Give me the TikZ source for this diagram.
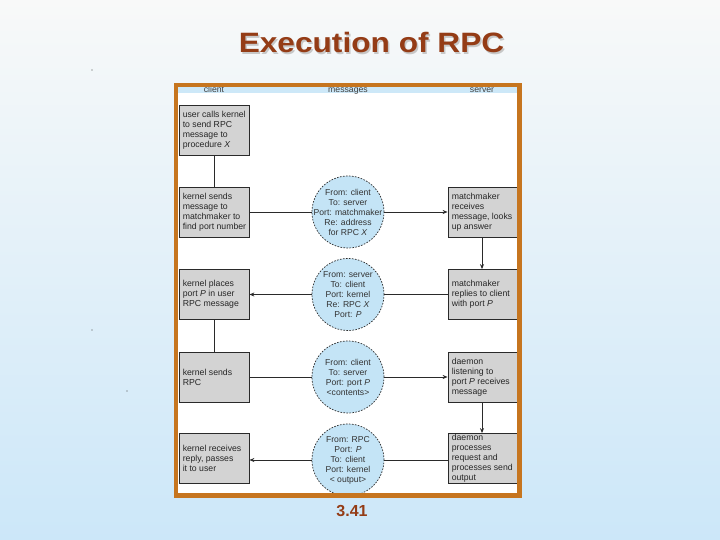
\documentclass[tikz,border=0pt]{standalone}
\usepackage{fontspec}
\setmainfont{Liberation Sans}
\usetikzlibrary{arrows.meta}
\definecolor{bgtop}{HTML}{F8F9F9}
\definecolor{bgbot}{HTML}{CCE7F9}
\definecolor{titlec}{HTML}{943C16}
\definecolor{framec}{HTML}{C6751F}
\definecolor{boxfill}{HTML}{D3D3D3}
\definecolor{circfill}{HTML}{C4E4F6}
\definecolor{stripc}{HTML}{CDE8F8}
\definecolor{linec}{HTML}{2A2A2A}
\begin{document}
\begin{tikzpicture}[x=1pt,y=-1pt,
 stepbox/.style={draw=linec, line width=0.8pt, fill=boxfill, minimum width=70pt, minimum height=50pt, inner sep=0pt},
 rightbox/.style={stepbox, minimum width=71pt},
 boxtext/.style={anchor=west, align=left, inner sep=0pt, font=\fontsize{8.7}{10}\selectfont, text=black!85},
 msg/.style={circle, draw=linec, dashed, dash pattern=on 1.6pt off 1.4pt, line width=0.7pt, fill=circfill, minimum size=72pt, inner sep=0pt},
 msgtext/.style={align=center, inner sep=0pt, font=\fontsize{8.6}{10}\selectfont, text=black!80},
 conn/.style={draw=linec, line width=0.8pt},
 arr/.style={conn, -{Stealth[length=5pt,width=4pt]}},
 hdr/.style={anchor=base, font=\fontsize{8.7}{10}\selectfont, text=black!75},
]
\useasboundingbox (0,0) rectangle (720,540);
\shade[top color=bgtop, bottom color=bgbot] (0,0) rectangle (720,540);
% specks
\fill[black!70] (92,70) circle (0.7);
\fill[black!70] (92,330) circle (0.7);
\fill[black!70] (127,391) circle (0.7);
% title
\node[anchor=base, font=\fontsize{28}{34}\selectfont\bfseries, text=black!22] (titleshadow) at (373,54.5) {\scalebox{1.13}[1]{Execution of RPC}};
\node[anchor=base, font=\fontsize{28}{34}\selectfont\bfseries, text=titlec] (title) at (371.5,53) {\scalebox{1.13}[1]{Execution of RPC}};
% frame interior
\fill[white] (176,85) rectangle (519.5,495.5);
% header strip
\fill[stripc] (178,87) rectangle (517.5,93.5);
\begin{scope}
\clip (178,87) rectangle (517.5,93.5);
\node[hdr] (hclient) at (214,92.3) {client};
\node[hdr] (hmsg) at (348,92.3) {messages};
\node[hdr] (hserver) at (482,92.3) {server};
\end{scope}
% client boxes
\node[stepbox] (l1) at (214,130.5) {};
\node[stepbox] (l2) at (214,212) {};
\node[stepbox] (l3) at (214,294.5) {};
\node[stepbox] (l4) at (214,377) {};
\node[stepbox] (l5) at (214,458.5) {};
\node[boxtext] (l1t) at ([xshift=4pt]l1.west) {user calls kernel\\to send RPC\\message to\\procedure \textit{X}};
\node[boxtext] (l2t) at ([xshift=4pt]l2.west) {kernel sends\\message to\\matchmaker to\\find port number};
\node[boxtext] (l3t) at ([xshift=4pt]l3.west) {kernel places\\port \textit{P} in user\\RPC message};
\node[boxtext] (l4t) at ([xshift=4pt]l4.west) {kernel sends\\RPC};
\node[boxtext] (l5t) at ([xshift=4pt]l5.west) {kernel receives\\reply, passes\\it to user};
% server boxes
\node[rightbox] (r2) at (483.5,212) {};
\node[rightbox] (r3) at (483.5,294.5) {};
\node[rightbox] (r4) at (483.5,377) {};
\node[rightbox] (r5) at (483.5,458.5) {};
\node[boxtext] (r2t) at ([xshift=4pt]r2.west) {matchmaker\\receives\\message, looks\\up answer};
\node[boxtext] (r3t) at ([xshift=4pt]r3.west) {matchmaker\\replies to client\\with port \textit{P}};
\node[boxtext] (r4t) at ([xshift=4pt]r4.west) {daemon\\listening to\\port \textit{P} receives\\message};
\node[boxtext] (r5t) at ([xshift=4pt]r5.west) {daemon\\processes\\request and\\processes send\\output};
% messages
\node[msg] (c1) at (348,212) {};
\node[msg] (c2) at (348,294.5) {};
\node[msg] (c3) at (348,377) {};
\node[msg] (c4) at (348,460) {};
\node[msgtext] (c1t) at (c1) {From: client\\To: server\\Port: matchmaker\\Re: address\\for RPC \textit{X}};
\node[msgtext] (c2t) at (c2) {From: server\\To: client\\Port: kernel\\Re: RPC \textit{X}\\Port: \textit{P}};
\node[msgtext] (c3t) at (c3) {From: client\\To: server\\Port: port \textit{P}\\<contents>};
\node[msgtext] (c4t) at (c4) {From: RPC\\Port: \textit{P}\\To: client\\Port: kernel\\< output>};
% connectors
\draw[conn] (l1) -- (l2);
\draw[conn] (l2) -- (c1);
\draw[arr] (c1) -- (r2);
\draw[arr] (r2.south -| 482,0) -- (r3.north -| 482,0);
\draw[conn] (r3) -- (c2);
\draw[arr] (c2) -- (l3);
\draw[conn] (l3) -- (l4);
\draw[conn] (l4) -- (c3);
\draw[arr] (c3) -- (r4);
\draw[arr] (r4.south -| 482,0) -- (r5.north -| 482,0);
\draw[conn] (r5.west |- 0,460) -- (c4.east);
\draw[arr] (c4.west) -- (l5.east |- 0,460);
% frame
\draw[framec, line width=4.5pt] (176,85) rectangle (519.5,495.5);
\node[anchor=base, font=\fontsize{16}{19}\selectfont\bfseries, text=titlec] (pagenum) at (352,516) {3.41};
\end{tikzpicture}
\end{document}
